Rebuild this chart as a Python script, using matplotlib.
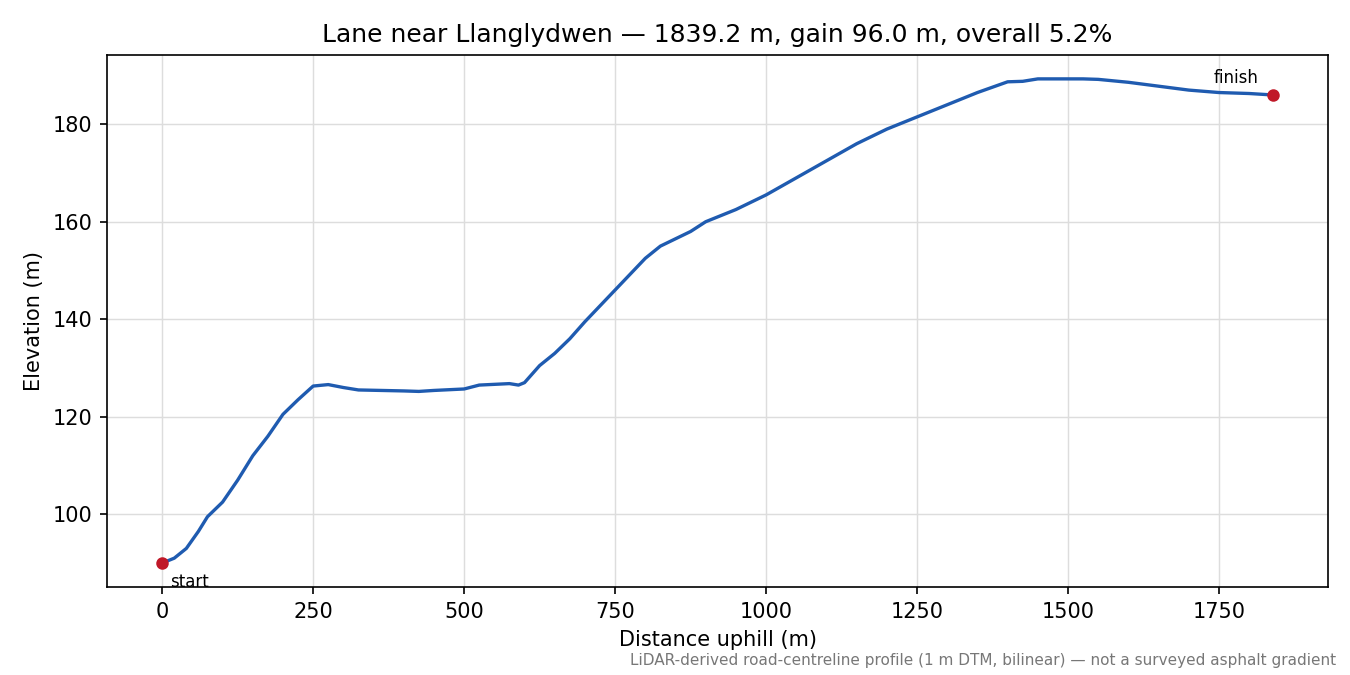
import matplotlib
matplotlib.use("Agg")
import matplotlib.pyplot as plt

distance = [0, 10, 20, 40, 60, 75, 100, 125, 150, 175, 200, 225, 250, 275, 300,
            325, 400, 425, 450, 500, 525, 575, 590, 600, 625, 650, 675, 700, 750,
            800, 825, 850, 875, 900, 950, 1000, 1050, 1100, 1150, 1200, 1250, 1300,
            1350, 1400, 1425, 1450, 1525, 1550, 1600, 1650, 1700, 1750, 1800, 1839.2]
elevation = [90, 90.5, 91, 93, 96.5, 99.5, 102.5, 107, 112, 116, 120.5, 123.5, 126.3,
             126.6, 126, 125.5, 125.3, 125.2, 125.4, 125.7, 126.5, 126.8, 126.5, 127,
             130.5, 133, 136, 139.5, 146, 152.5, 155, 156.5, 158, 160, 162.5, 165.5,
             169, 172.5, 176, 179, 181.5, 184, 186.5, 188.7, 188.8, 189.3, 189.3,
             189.2, 188.6, 187.8, 187, 186.5, 186.3, 186]

fig = plt.figure(figsize=(9, 4.5), dpi=150)
ax = fig.add_axes([0.079, 0.13, 0.905, 0.789])
ax.plot(distance, elevation, color="#1f5bb0", linewidth=1.6)
ax.plot([distance[0]], [elevation[0]], "o", color="#c01828", markersize=5)
ax.plot([distance[-1]], [elevation[-1]], "o", color="#c01828", markersize=5)
ax.annotate("start", (distance[0], elevation[0]), xytext=(4, -9),
            textcoords="offset points", fontsize=8, va="center")
ax.annotate("finish", (distance[-1], elevation[-1]), xytext=(-7, 8),
            textcoords="offset points", fontsize=8, ha="right", va="center")
ax.grid(True, color="#dddddd", linewidth=0.7)
ax.set_xlabel("Distance uphill (m)")
ax.set_ylabel("Elevation (m)")
ax.set_title("Lane near Llanglydwen — 1839.2 m, gain 96.0 m, overall 5.2%")
fig.text(0.99, 0.01, "LiDAR-derived road-centreline profile (1 m DTM, bilinear) — not a surveyed asphalt gradient",
         ha="right", va="bottom", fontsize=7.3, color="#777777")
fig.savefig("out.png", dpi=150)
